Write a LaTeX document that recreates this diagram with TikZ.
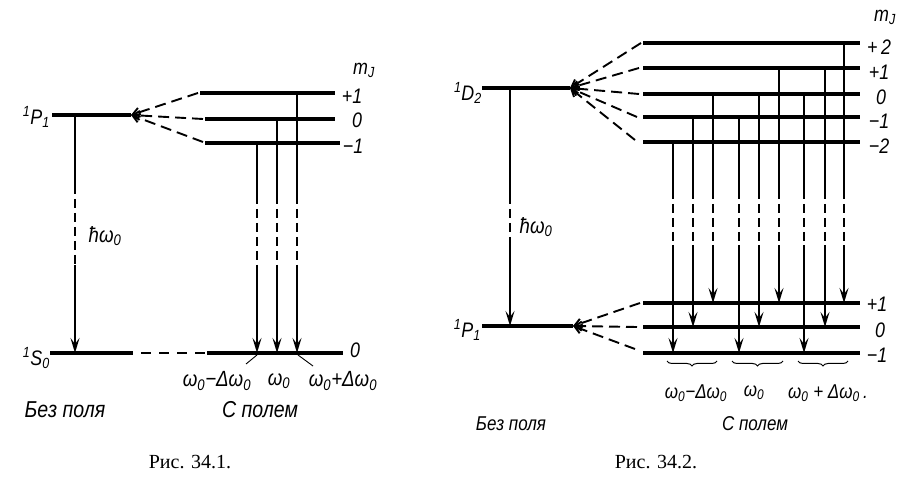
\documentclass[tikz,border=0pt]{standalone}
\usepackage{fontspec}
\setmainfont{Liberation Serif}
\newfontfamily\dfont{Liberation Sans}[FakeStretch=0.85]
\usetikzlibrary{arrows.meta,decorations.pathreplacing}
\newcommand\trn[5]{%
  \draw[tr] (#1,#2) -- (#1,#3);
  \draw[tr,dsh] (#1,#3) -- (#1,#4);
  \draw[tr,tip] (#1,#4) -- (#1,#5);}
\begin{document}
\begin{tikzpicture}[x=1pt,y=-1pt,
  lev/.style={line width=3.6pt},
  tr/.style={line width=2pt},
  dsh/.style={dash pattern=on 9pt off 5pt},
  fan/.style={line width=1.9pt,dash pattern=on 11pt off 6pt,-{Straight Barb[length=7pt,width=9pt]}},
  tip/.style={-{Stealth[length=15pt,width=9pt,inset=6pt]}},
  lbl/.style={font=\dfont\itshape\fontsize{21}{21}\selectfont,inner sep=0pt},
  lbw/.style={font=\dfont\itshape\fontsize{22}{22}\selectfont,inner sep=0pt},
  lbs/.style={font=\dfont\itshape\fontsize{20}{20}\selectfont,inner sep=0pt},
  lbt/.style={font=\dfont\itshape\fontsize{23}{23}\selectfont,inner sep=0pt},
  figcap/.style={font=\fontsize{20}{20}\selectfont,inner sep=0pt},
  brc/.style={line width=1pt,decorate,decoration={brace,mirror,amplitude=5pt}}]
\useasboundingbox (0,0) rectangle (922,494);
% ---------------- Fig 34.1 ----------------
\coordinate (aP) at (131,115);
\draw[lev] (52,115) -- (aP);
\draw[lev] (200,93) -- (335,93);
\draw[lev] (205,119) -- (335,119);
\draw[lev] (205,143) -- (340,143);
\draw[fan] (198,93) -- (aP);
\draw[fan] (203,119) -- (aP);
\draw[fan] (203,142) -- (aP);
\draw[lev] (50,353) -- (133,353);
\draw[line width=2.4pt,dash pattern=on 10pt off 8pt] (141,353) -- (205,353);
\draw[lev] (207,353) -- (343,353);
\trn{75}{115}{185}{265}{353}
\trn{257}{143}{195}{265}{353}
\trn{277}{119}{195}{265}{353}
\trn{297}{93}{195}{265}{353}
\draw[line width=0.9pt] (257,355) -- (246,364);
\draw[line width=0.9pt] (298,355) -- (313,366);
\node[lbl,anchor=east] (p1a) at (50,117) {\textsuperscript{1}P\textsubscript{1}};
\node[lbl,anchor=east] (s0a) at (50,358) {\textsuperscript{1}S\textsubscript{0}};
\node[lbw] (hwa) at (105,236) {ħω\textsubscript{0}};
\node[lbl] (mja) at (364,70) {m\textsubscript{J}};
\node[lbl] (ap1) at (352,96) {+1};
\node[lbl] (a0) at (357,120) {0};
\node[lbl] (am1) at (353,146) {−1};
\node[lbl] (a00) at (355,350) {0};
\node[lbw] (wma) at (217,381) {ω\textsubscript{0}−Δω\textsubscript{0}};
\node[lbw] (w0a) at (279,381) {ω\textsubscript{0}};
\node[lbw] (wpa) at (343,381) {ω\textsubscript{0}+Δω\textsubscript{0}};
\node[lbt] (bpa) at (65,410) {Без поля};
\node[lbt] (spa) at (260,410) {С полем};
\node[figcap] (ca) at (190,462) {Рис. 34.1.};
% ---------------- Fig 34.2 ----------------
\coordinate (bD) at (570,88);
\coordinate (bP) at (573,326);
\draw[lev] (482,88) -- (bD);
\foreach \y in {43,68,94,117,142} {\draw[lev] (643,\y) -- (860,\y);}
\draw[fan] (641,43) -- (bD);
\draw[fan] (639,68) -- (bD);
\draw[fan] (639,94) -- (bD);
\draw[fan] (637,117) -- (bD);
\draw[fan] (635,140) -- (bD);
\draw[lev] (482,326) -- (bP);
\foreach \y in {303,327,353} {\draw[lev] (643,\y) -- (860,\y);}
\draw[fan] (640,303) -- (bP);
\draw[fan] (637,327) -- (bP);
\draw[fan] (635,349) -- (bP);
\trn{510}{88}{195}{245}{326}
\trn{673}{142}{190}{245}{353}
\trn{693}{117}{190}{245}{327}
\trn{713}{94}{190}{245}{303}
\trn{739}{117}{190}{245}{353}
\trn{759}{94}{190}{245}{327}
\trn{779}{68}{190}{245}{303}
\trn{804}{94}{190}{245}{353}
\trn{825}{68}{190}{245}{327}
\trn{844}{43}{190}{245}{303}
\draw[brc] (667,361) -- (717,361);
\draw[brc] (732,361) -- (783,361);
\draw[brc] (798,361) -- (848,361);
\node[lbl,anchor=east] (d2b) at (482,93) {\textsuperscript{1}D\textsubscript{2}};
\node[lbl,anchor=east] (p1b) at (481,330) {\textsuperscript{1}P\textsubscript{1}};
\node[lbw] (hwb) at (536,227) {ħω\textsubscript{0}};
\node[lbl] (mjb) at (885,17) {m\textsubscript{J}};
\node[lbl] (bp2) at (879,47) {+\,2};
\node[lbl] (bp1) at (879,72) {+1};
\node[lbl] (b0) at (881,97) {0};
\node[lbl] (bm1) at (879,121) {−1};
\node[lbl] (bm2) at (879,146) {−2};
\node[lbl] (cp1) at (877,304) {+1};
\node[lbl] (c0) at (880,330) {0};
\node[lbl] (cm1) at (877,355) {−1};
\node[lbs] (wmb) at (696,393) {ω\textsubscript{0}−Δω\textsubscript{0}};
\node[lbs] (w0b) at (754,393) {ω\textsubscript{0}};
\node[lbs] (wpb) at (828,393) {ω\textsubscript{0} + Δω\textsubscript{0}\,.};
\node[lbs] (bpb) at (511,424) {Без поля};
\node[lbs] (spb) at (755,424) {С полем};
\node[figcap] (cb) at (656,462) {Рис. 34.2.};
\end{tikzpicture}
\end{document}
